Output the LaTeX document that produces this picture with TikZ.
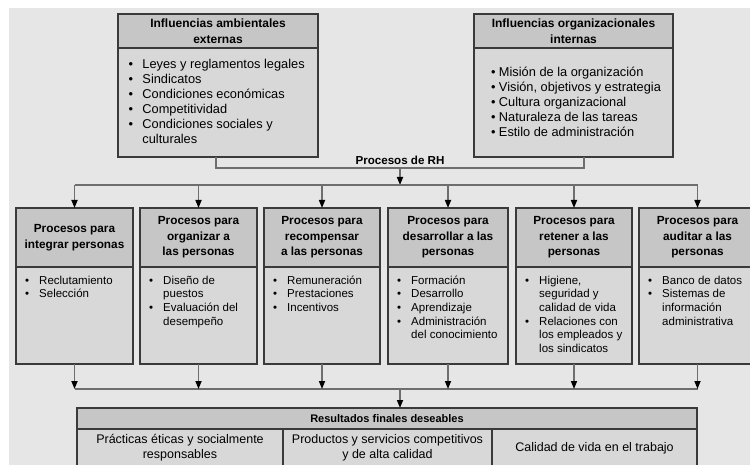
\documentclass[tikz,border=0pt]{standalone}
\usepackage{fontspec}
\setmainfont{Liberation Sans}
\usetikzlibrary{arrows.meta,positioning}
\definecolor{bgc}{HTML}{E6E6E6}
\definecolor{hdrc}{HTML}{C6C6C6}
\definecolor{bdyc}{HTML}{D8D8D8}
\definecolor{linec}{HTML}{3A3A3A}
\definecolor{connc}{HTML}{6E6E6E}
\newcommand{\blist}[2][10pt]{\begin{tabular}{@{}l@{\hspace{#1}}l@{}}#2\end{tabular}}
\newcommand{\bl}{\textbullet &}

\begin{document}
\begin{tikzpicture}[x=1pt,y=-1pt,
  box/.style={rectangle,draw=linec,line width=1.3pt,outer sep=0pt,inner sep=2pt,align=center},
  tophdr/.style={box,fill=hdrc,minimum width=#1,minimum height=34pt,
                 font={\fontsize{12}{16}\selectfont\bfseries}},
  topbdy/.style={box,fill=bdyc,minimum width=#1,minimum height=109pt},
  hdr/.style={box,fill=hdrc,minimum width=#1,minimum height=59pt,
              font={\fontsize{11.8}{15.5}\selectfont\bfseries}},
  bdy/.style={box,fill=bdyc,minimum width=#1,minimum height=97pt},
  lst/.style={inner sep=0pt,anchor=north west,font={\fontsize{11.5}{13.7}\selectfont}},
  toplst/.style={inner sep=0pt,anchor=west,font={\fontsize{12.8}{15}\selectfont}},
  cell/.style={box,fill=bdyc,minimum width=#1,minimum height=38pt,
               font={\fontsize{12.5}{15}\selectfont}},
  conn/.style={draw=connc,line width=1.6pt},
  arr/.style={conn,-{Triangle[length=8pt,width=6pt,color=black]}}]
\useasboundingbox (0,0) rectangle (750,465);
\clip (0,0) rectangle (750,465);
\fill[white] (0,0) rectangle (750,465);
\fill[bgc] (9,8) rectangle (750,465);

% influencias
\node[tophdr=200pt] (exth) at (218,31) {Influencias ambientales\\externas};
\node[topbdy=200pt,below=0pt of exth] (ext) {};
\node[toplst] at ([xshift=10.4pt,yshift=-1pt]ext.west) {\blist[9.4pt]{%
  \bl Leyes y reglamentos legales\\ \bl Sindicatos\\ \bl Condiciones económicas\\
  \bl Competitividad\\ \bl Condiciones sociales y\\ & culturales}};
\node[tophdr=199pt] (inth) at (573.5,31) {Influencias organizacionales\\internas};
\node[topbdy=199pt,below=0pt of inth] (int) {};
\node[toplst] at ([xshift=16.8pt,yshift=-1pt]int.west) {\blist[3.5pt]{%
  \bl Misión de la organización\\ \bl Visión, objetivos y estrategia\\
  \bl Cultura organizacional\\ \bl Naturaleza de las tareas\\ \bl Estilo de administración}};

\coordinate (rh) at (400,168);
\coordinate (bus) at (400,185);
\node[inner sep=0pt,above=3.5pt of rh,font={\fontsize{11.6}{14}\selectfont\bfseries}] (rhlab) {Procesos de RH};
\draw[conn] ([xshift=-2pt]ext.south) |- (rh) -| ([xshift=10.5pt]int.south);

% procesos
\node[hdr=117pt] (h1) at (74.5,237.5) {Procesos para\\integrar personas};
\node[hdr=117pt,right=7pt of h1] (h2) {Procesos para\\organizar a\\las personas};
\node[hdr=116pt,right=7pt of h2] (h3) {Procesos para\\recompensar\\a las personas};
\node[hdr=120pt,right=8pt of h3] (h4) {Procesos para\\desarrollar a las\\personas};
\node[hdr=116pt,right=8pt of h4] (h5) {Procesos para\\retener a las\\personas};
\node[hdr=117pt,right=7pt of h5] (h6) {Procesos para\\auditar a las\\personas};
\node[bdy=117pt,below=0pt of h1] (b1) {};
\node[bdy=117pt,below=0pt of h2] (b2) {};
\node[bdy=116pt,below=0pt of h3] (b3) {};
\node[bdy=120pt,below=0pt of h4] (b4) {};
\node[bdy=116pt,below=0pt of h5] (b5) {};
\node[bdy=117pt,below=0pt of h6] (b6) {};
\node[lst] at ([xshift=9pt,yshift=-7.4pt]b1.north west) {\blist{\bl Reclutamiento\\ \bl Selección}};
\node[lst] at ([xshift=9pt,yshift=-7.4pt]b2.north west) {\blist{\bl Diseño de\\ & puestos\\
  \bl Evaluación del\\ & desempeño}};
\node[lst] at ([xshift=9pt,yshift=-7.4pt]b3.north west) {\blist{\bl Remuneración\\
  \bl Prestaciones\\ \bl Incentivos}};
\node[lst] at ([xshift=9pt,yshift=-7.4pt]b4.north west) {\blist{\bl Formación\\ \bl Desarrollo\\
  \bl Aprendizaje\\ \bl Administración\\ & del conocimiento}};
\node[lst] at ([xshift=9pt,yshift=-7.4pt]b5.north west) {\blist{\bl Higiene,\\ & seguridad y\\
  & calidad de vida\\ \bl Relaciones con\\ & los empleados y\\ & los sindicatos}};
\node[lst] at ([xshift=9pt,yshift=-7.4pt]b6.north west) {\blist{\bl Banco de datos\\
  \bl Sistemas de\\ & información\\ & administrativa}};

\draw[arr] (rh) -- (bus);
\draw[conn] (h1.north |- bus) -- (h6.north |- bus);
\draw[arr] (h1.north |- bus) -- (h1.north);
\draw[arr] (h2.north |- bus) -- (h2.north);
\draw[arr] (h3.north |- bus) -- (h3.north);
\draw[arr] (h4.north |- bus) -- (h4.north);
\draw[arr] (h5.north |- bus) -- (h5.north);
\draw[arr] (h6.north |- bus) -- (h6.north);

% resultados
\coordinate (bus2) at (400,389);
\node[box,fill=hdrc,minimum width=620pt,minimum height=21pt,
      font={\fontsize{11}{13}\selectfont\bfseries}] (res) at (387,418.5) {Resultados finales deseables};
\node[cell=206pt,anchor=north west] (r1) at (res.south west) {Prácticas éticas y socialmente\\responsables};
\node[cell=209pt,right=0pt of r1] (r2) {Productos y servicios competitivos\\y de alta calidad};
\node[cell=205pt,right=0pt of r2] (r3) {Calidad de vida en el trabajo};

\draw[conn] (b1.south |- bus2) -- (b6.south |- bus2);
\draw[arr] (b1.south) -- (b1.south |- bus2);
\draw[arr] (b2.south) -- (b2.south |- bus2);
\draw[arr] (b3.south) -- (b3.south |- bus2);
\draw[arr] (b4.south) -- (b4.south |- bus2);
\draw[arr] (b5.south) -- (b5.south |- bus2);
\draw[arr] (b6.south) -- (b6.south |- bus2);
\draw[arr] (bus2) -- (bus2 |- res.north);
\end{tikzpicture}
\end{document}
